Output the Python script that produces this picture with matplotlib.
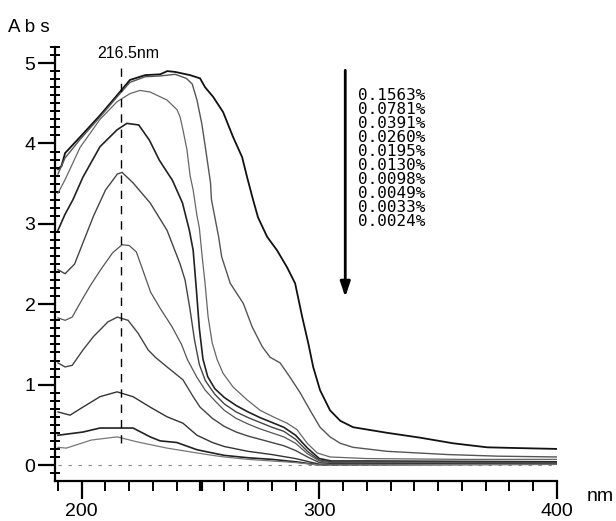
import matplotlib
matplotlib.use('Agg')
import matplotlib.pyplot as plt
from matplotlib.ticker import MultipleLocator, FixedLocator

# ---- data (wavelength nm, absorbance) ----
labels = ['0.1563%', '0.0781%', '0.0391%', '0.0260%', '0.0195%',
          '0.0130%', '0.0098%', '0.0049%', '0.0033%', '0.0024%']

wl1 = [190, 191.5, 193, 199.3, 207.7, 214.9, 220.3, 226.7, 233, 236, 239.3, 245.6, 249.8, 251.9,
       255.3, 259.5, 263.7, 267.5, 269.6, 272.1, 274.2, 278, 282.2, 286.4, 289.8, 292.8, 295.3,
       297.4, 300.3, 304.5, 308.8, 314.2, 328.6, 342.4, 356.3, 370.6, 384.5, 400]
a1 = [3.68, 3.72, 3.88, 4.08, 4.35, 4.60, 4.79, 4.85, 4.86, 4.90, 4.89, 4.85, 4.81, 4.70,
      4.58, 4.39, 4.08, 3.83, 3.58, 3.30, 3.08, 2.84, 2.67, 2.46, 2.26, 1.84, 1.52,
      1.22, 0.93, 0.68, 0.55, 0.47, 0.40, 0.34, 0.27, 0.22, 0.21, 0.20]

wl2 = [190, 193, 199.3, 207.7, 214.9, 220.3, 226.7, 233, 239.3, 244, 246.5, 248.5, 250.5, 252.2,
       254.2, 254.6, 257.6, 258.9, 262.5, 268, 271.7, 276, 279.3, 283.5, 287.7, 291.9, 296.1,
       300.3, 304.5, 308.8, 314.2, 328.6, 354, 375, 400]
a2 = [3.62, 3.82, 4.05, 4.33, 4.58, 4.76, 4.83, 4.84, 4.86, 4.81, 4.74, 4.54, 4.25, 3.92,
      3.51, 3.30, 2.84, 2.59, 2.26, 2.01, 1.72, 1.47, 1.34, 1.27, 1.09, 0.90, 0.68,
      0.47, 0.35, 0.27, 0.22, 0.17, 0.13, 0.11, 0.10]

wl3 = [190, 193, 199.3, 207.7, 214.9, 220.3, 224.5, 228.8, 235.9, 240.1, 241.4, 242.6, 244.3,
       245.6, 246.9, 248.5, 249.5, 250.7, 251.9, 253.2, 254.9, 257, 259.5, 263.7, 269.6, 275.1,
       280.5, 286.4, 290.6, 294.9, 299.1, 304.5, 320, 360, 400]
a3 = [3.38, 3.55, 3.95, 4.30, 4.52, 4.62, 4.66, 4.64, 4.54, 4.42, 4.33, 4.17, 3.92,
      3.60, 3.42, 3.10, 2.95, 2.59, 2.26, 1.84, 1.52, 1.31, 1.14, 0.97, 0.81, 0.68,
      0.60, 0.52, 0.44, 0.27, 0.15, 0.10, 0.08, 0.07, 0.07]

wl4 = [190, 193, 196.3, 200.5, 207.7, 214.9, 219, 224, 228.5, 232.7, 238.2, 242.4, 245.3, 246.9,
       248.2, 249.5, 251, 253, 256, 260, 265, 270, 275, 280, 285, 290, 295, 300, 305, 320, 400]
a4 = [2.92, 3.12, 3.30, 3.58, 3.96, 4.17, 4.25, 4.23, 4.04, 3.79, 3.54, 3.26, 2.92, 2.67,
      2.20, 1.70, 1.32, 1.10, 0.95, 0.84, 0.74, 0.66, 0.59, 0.53, 0.47, 0.37, 0.21, 0.08, 0.05, 0.05, 0.04]

wl5 = [190, 193, 197, 201, 205, 210, 215, 217, 221.6, 228.8, 235.9, 241.4, 243.5, 245.5, 247.5,
       249.5, 252, 256, 260, 265, 270, 275, 280, 285, 290, 295, 300, 305, 320, 400]
a5 = [2.43, 2.38, 2.50, 2.80, 3.10, 3.42, 3.62, 3.64, 3.51, 3.26, 2.92, 2.50, 2.30, 1.95, 1.55,
      1.25, 1.05, 0.88, 0.76, 0.66, 0.59, 0.53, 0.47, 0.42, 0.32, 0.17, 0.06, 0.04, 0.04, 0.03]

wl6 = [190, 193, 196, 200, 204, 208, 213, 217, 220, 223, 226, 229, 233, 238, 242, 244.5, 248.5,
       252, 256, 260, 265, 270, 275, 280, 285, 290, 295, 300, 305, 400]
a6 = [1.83, 1.80, 1.84, 2.05, 2.25, 2.43, 2.64, 2.74, 2.73, 2.65, 2.40, 2.15, 1.95, 1.72, 1.50,
      1.31, 1.09, 0.93, 0.80, 0.68, 0.58, 0.51, 0.45, 0.40, 0.35, 0.27, 0.14, 0.05, 0.03, 0.02]

wl7 = [190, 193, 196, 200.5, 205, 207.7, 211, 215, 219.5, 223.7, 228, 231, 235.9, 242.6, 246.9,
       249.8, 255, 260, 265, 270, 275, 280, 285, 290, 295, 300, 305, 400]
a7 = [1.27, 1.22, 1.24, 1.43, 1.60, 1.68, 1.78, 1.84, 1.80, 1.64, 1.43, 1.34, 1.22, 1.06, 0.85,
      0.72, 0.58, 0.48, 0.41, 0.36, 0.32, 0.28, 0.24, 0.18, 0.10, 0.03, 0.02, 0.01]

wl8 = [190, 195.1, 200.5, 207.7, 214.9, 221.6, 228.8, 235.9, 242.6, 248.5, 255, 260, 270, 280,
       290, 300, 305, 400]
a8 = [0.66, 0.62, 0.72, 0.85, 0.91, 0.85, 0.72, 0.60, 0.52, 0.37, 0.28, 0.23, 0.17, 0.13,
      0.08, 0.01, 0.01, 0.01]

wl9 = [190, 200.5, 207.7, 214.9, 221.6, 228.8, 233, 240, 248.5, 255, 260, 270, 280, 290, 300, 400]
a9 = [0.37, 0.41, 0.46, 0.46, 0.46, 0.35, 0.30, 0.28, 0.19, 0.15, 0.12, 0.09, 0.07, 0.04, 0.0, 0.01]

wl10 = [190, 193.5, 204, 214.9, 223, 235.9, 248.5, 255, 260, 270, 280, 290, 300, 400]
a10 = [0.22, 0.21, 0.31, 0.35, 0.29, 0.21, 0.15, 0.12, 0.10, 0.07, 0.05, 0.03, 0.0, 0.01]

series = [(wl1, a1), (wl2, a2), (wl3, a3), (wl4, a4), (wl5, a5),
          (wl6, a6), (wl7, a7), (wl8, a8), (wl9, a9), (wl10, a10)]

peak_wl = 216.5

# ---- figure ----
W, H = 616, 521
fig = plt.figure(figsize=(W / 100, H / 100), dpi=100)
ax = fig.add_axes([55 / W, 40 / H, (557 - 55) / W, (481 - 47) / H])

colors = ['#111111', '#555555', '#666666', '#222222', '#444444',
          '#555555', '#444444', '#333333', '#222222', '#777777']
widths = [1.3, 1.0, 0.9, 1.2, 1.0, 0.9, 1.0, 1.0, 1.2, 0.9]
for (w, a), c, lw in zip(series, colors, widths):
    ax.plot(w, a, color=c, lw=lw, solid_joinstyle='miter')

# baseline and peak marker
ax.plot([190, 400], [0, 0], ls=(0, (3, 6)), color='#888888', lw=0.8)
ax.plot([peak_wl, peak_wl], [0.27, 5.0], ls=(0, (6, 5)), color='black', lw=1.0)

ax.set_xlim(188.76, 400)
ax.set_ylim(-0.199, 5.2)

for s in ['top', 'right']:
    ax.spines[s].set_visible(False)
for s in ['left', 'bottom']:
    ax.spines[s].set_linewidth(1.6)

ax.xaxis.set_major_locator(FixedLocator([200, 300, 400]))
ax.xaxis.set_minor_locator(MultipleLocator(10))
ax.yaxis.set_minor_locator(MultipleLocator(0.1))
ax.set_yticks([0, 1, 2, 3, 4, 5])
ax.set_yticklabels(['0', '1', '2', '3', '4', '5'])
ax.tick_params(axis='x', which='major', direction='out', length=13, width=1.6, pad=3,
               labelsize=14)
ax.tick_params(axis='x', which='minor', direction='out', length=7, width=1.4)
ax.tick_params(axis='y', which='major', direction='out', length=12, width=1.6, pad=2,
               labelsize=14)
ax.tick_params(axis='y', which='minor', direction='inout', length=7, width=1.4)
for lab in ax.get_xticklabels() + ax.get_yticklabels():
    lab.set_family('Liberation Sans')

# heavier mid tick at 250 nm, as on the instrument printout
ax.plot([250, 250], [0, -10 / 434], transform=ax.get_xaxis_transform(), color='black',
        lw=3, clip_on=False, solid_capstyle='butt')

# texts
fig.text(8 / W, (H - 32) / H, 'A b s', fontsize=13.5, family='Liberation Sans', va='baseline')
fig.text(587 / W, (H - 501) / H, 'nm', fontsize=14, family='Liberation Sans', va='baseline')
ax.text(219.5, 5.06, '216.5nm', fontsize=11.5, family='Liberation Sans', ha='center', va='baseline')

# arrow and concentration list
ax.annotate('', xy=(310.9, 2.09), xytext=(310.9, 4.91),
            arrowprops=dict(arrowstyle='-|>,head_length=0.9,head_width=0.3', lw=2, color='black',
                            shrinkA=0, shrinkB=0))
for i, lab in enumerate(labels):
    ax.text(316.3, 4.60 - i * 0.174, lab, fontsize=11.5, family='DejaVu Sans Mono',
            ha='left', va='center')

fig.savefig('out.png', dpi=100)
